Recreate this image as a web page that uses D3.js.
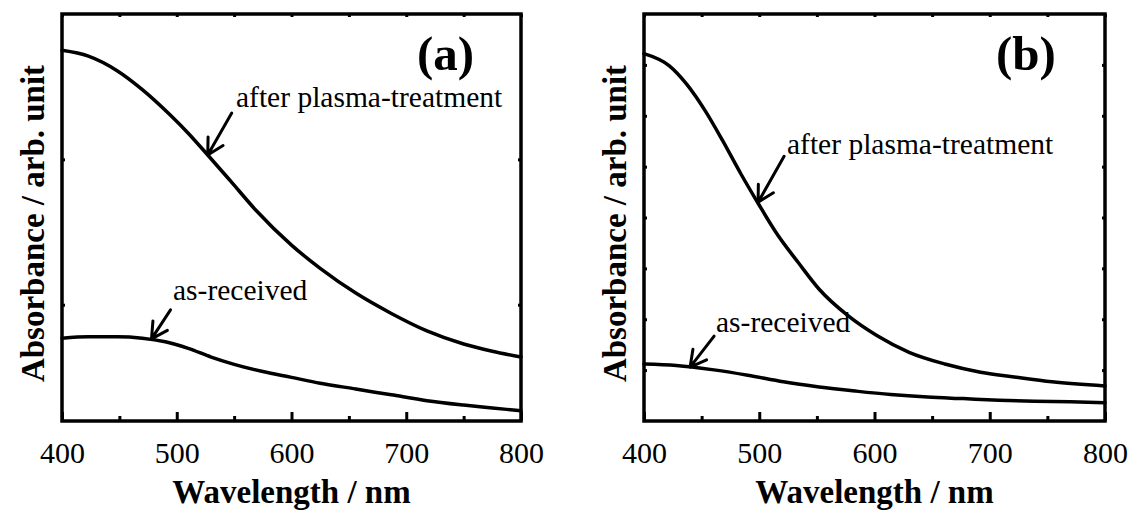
<!DOCTYPE html>
<html lang="en">
<head>
<meta charset="UTF-8">
<title>Absorbance before and after plasma treatment</title>
<script src="https://d3js.org/d3.v7.min.js"></script>
<style>
    body { margin: 0; background: #fff; }
    .frame { fill: none; stroke: #000; stroke-width: 3.5; }
    .curve { fill: none; stroke: #000; stroke-width: 3.5; stroke-linejoin: round; stroke-linecap: round; }
    .tick line { stroke: #000; stroke-width: 3; }
    .arrow { stroke: #000; stroke-width: 3; fill: none; stroke-linecap: round; stroke-linejoin: round; }
</style>
</head>
<body>
<svg id="chart" width="1130" height="512"></svg>
<script>
const xMajor = [400, 500, 600, 700, 800];
const xMinor = [450, 550, 650, 750];
const xAll = [400, 450, 500, 550, 600, 650, 700, 750, 800];

// panel (a)
const aAfterWave = [400, 423, 448, 470, 495, 510, 527, 547, 569, 600, 625, 656, 687, 718, 750, 775, 800];
const aAfter = [2.75, 2.71, 2.61, 2.48, 2.30, 2.18, 2.03, 1.85, 1.65, 1.41, 1.25, 1.08, 0.94, 0.82, 0.73, 0.68, 0.64];
const aRecvWave = [400, 423, 448, 470, 490, 510, 530, 550, 575, 600, 625, 656, 687, 718, 750, 775, 800];
const aRecv = [0.77, 0.78, 0.78, 0.77, 0.745, 0.70, 0.64, 0.59, 0.54, 0.50, 0.46, 0.42, 0.38, 0.34, 0.31, 0.29, 0.27];
const aYTicks = [1, 2];

// panel (b)
const bAfterWave = [400, 422, 437, 453, 468, 484, 499, 515, 534, 552, 577, 602, 630, 661, 692, 723, 754, 800];
const bAfter = [7.22, 6.98, 6.62, 6.10, 5.52, 4.86, 4.28, 3.69, 3.11, 2.59, 2.07, 1.68, 1.35, 1.12, 0.96, 0.86, 0.77, 0.69];
const bRecvWave = [400, 428, 459, 490, 521, 552, 583, 614, 646, 677, 708, 739, 770, 800];
const bRecv = [1.12, 1.09, 1.01, 0.90, 0.77, 0.67, 0.59, 0.52, 0.47, 0.44, 0.41, 0.39, 0.38, 0.36];
const bYTicks = [1, 2, 3, 4, 5, 6, 7];

const panels = [
    {
        tag: "(a)", left: 62, right: 521, yDomain: [0.2, 3], yTicks: aYTicks,
        series: [[aAfterWave, aAfter], [aRecvWave, aRecv]],
        notes: [
            {text: "after plasma-treatment", tx: 236, ty: 107, tip: [527, 2.03], dx: 24, dy: -42},
            {text: "as-received", tx: 173, ty: 300, tip: [478, 0.765], dx: 19, dy: -29}
        ],
        tagX: 417
    },
    {
        tag: "(b)", left: 644, right: 1105, yDomain: [0, 8], yTicks: bYTicks,
        series: [[bAfterWave, bAfter], [bRecvWave, bRecv]],
        notes: [
            {text: "after plasma-treatment", tx: 787, ty: 154, tip: [499, 4.30], dx: 26, dy: -46},
            {text: "as-received", tx: 716, ty: 332, tip: [440, 1.06], dx: 24, dy: -31}
        ],
        tagX: 996
    }
];

const plotTop = 14, plotBottom = 421;
const serif = "Liberation Serif";
const svg = d3.select("#chart");

panels.forEach(p => {
    const x = d3.scaleLinear().domain([400, 800]).range([p.left, p.right]);
    const y = d3.scaleLinear().domain(p.yDomain).range([plotBottom, plotTop]);
    const g = svg.append("g");

    // bottom major ticks with labels
    g.append("g")
        .attr("transform", `translate(0,${plotBottom})`)
        .call(d3.axisBottom(x).tickValues(xMajor).tickSize(-9).tickFormat(d3.format("d")))
        .attr("font-family", serif)
        .attr("font-size", 30)
        .call(a => a.select(".domain").remove())
        .call(a => a.selectAll("text").attr("fill", "#000").attr("y", 42).attr("dy", null));

    g.append("g")
        .attr("transform", `translate(0,${plotBottom})`)
        .call(d3.axisBottom(x).tickValues(xMinor).tickSize(-5).tickFormat(""))
        .call(a => a.select(".domain").remove());

    g.append("g")
        .attr("transform", `translate(0,${plotTop})`)
        .call(d3.axisTop(x).tickValues(xAll).tickSize(-3).tickFormat(""))
        .call(a => a.select(".domain").remove());

    g.append("g")
        .attr("transform", `translate(${p.left},0)`)
        .call(d3.axisLeft(y).tickValues(p.yTicks).tickSize(-3).tickFormat(""))
        .call(a => a.select(".domain").remove());

    g.append("g")
        .attr("transform", `translate(${p.right},0)`)
        .call(d3.axisRight(y).tickValues(p.yTicks).tickSize(-3).tickFormat(""))
        .call(a => a.select(".domain").remove());

    g.append("rect")
        .attr("class", "frame")
        .attr("x", p.left).attr("y", plotTop)
        .attr("width", p.right - p.left).attr("height", plotBottom - plotTop);

    const line = d3.line()
        .x(d => x(d[0]))
        .y(d => y(d[1]))
        .curve(d3.curveMonotoneX);

    p.series.forEach(([w, v]) => {
        g.append("path")
            .attr("class", "curve")
            .attr("d", line(d3.zip(w, v)));
    });

    // annotations with arrows
    p.notes.forEach(n => {
        g.append("text")
            .attr("x", n.tx).attr("y", n.ty)
            .attr("font-family", serif)
            .attr("font-size", 29.5)
            .text(n.text);

        const tx = x(n.tip[0]), ty = y(n.tip[1]);
        const sx = tx + n.dx, sy = ty + n.dy;
        const ang = Math.atan2(sy - ty, sx - tx);
        const len = 18, spread = 0.5;
        g.append("path")
            .attr("class", "arrow")
            .attr("d", `M${sx},${sy}L${tx},${ty}` +
                `M${tx + len * Math.cos(ang - spread)},${ty + len * Math.sin(ang - spread)}L${tx},${ty}` +
                `L${tx + len * Math.cos(ang + spread)},${ty + len * Math.sin(ang + spread)}`);
    });

    g.append("text")
        .attr("x", p.tagX).attr("y", 70)
        .attr("font-family", serif)
        .attr("font-size", 49)
        .attr("font-weight", "bold")
        .text(p.tag);

    g.append("text")
        .attr("x", (p.left + p.right) / 2).attr("y", 503)
        .attr("text-anchor", "middle")
        .attr("font-family", serif)
        .attr("font-size", 33)
        .attr("font-weight", "bold")
        .text("Wavelength / nm");

    g.append("text")
        .attr("transform", `translate(${p.left - 18},${(plotTop + plotBottom) / 2 + 6}) rotate(-90)`)
        .attr("text-anchor", "middle")
        .attr("font-family", serif)
        .attr("font-size", 33)
        .attr("font-weight", "bold")
        .text("Absorbance / arb. unit");
});
</script>
</body>
</html>
